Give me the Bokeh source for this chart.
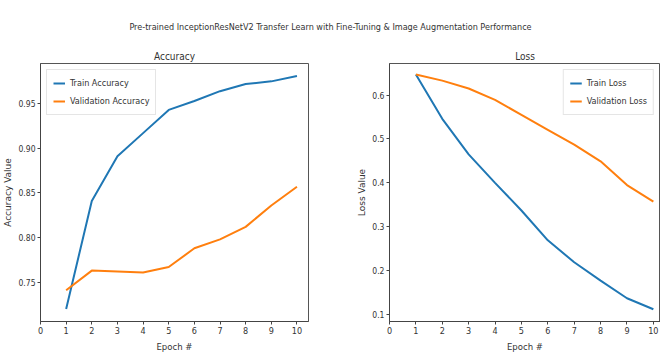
from bokeh.plotting import figure
from bokeh.layouts import column, row
from bokeh.models import Range1d, FixedTicker, Legend, LegendItem, CustomJSTickFormatter
from bokeh.core.properties import value
from bokeh.embed import file_html
from bokeh.resources import INLINE

epochs = [1, 2, 3, 4, 5, 6, 7, 8, 9, 10]
train_acc = [0.720, 0.841, 0.891, 0.917, 0.943, 0.953, 0.964, 0.972, 0.975, 0.981]
val_acc = [0.741, 0.763, 0.762, 0.761, 0.767, 0.788, 0.798, 0.812, 0.836, 0.857]
train_loss = [0.647, 0.546, 0.465, 0.400, 0.337, 0.269, 0.219, 0.177, 0.137, 0.112]
val_loss = [0.647, 0.633, 0.615, 0.589, 0.555, 0.521, 0.487, 0.449, 0.395, 0.357]
x_ticks = [0, 1, 2, 3, 4, 5, 6, 7, 8, 9, 10]
acc_ticks = [0.75, 0.80, 0.85, 0.90, 0.95]
loss_ticks = [0.1, 0.2, 0.3, 0.4, 0.5, 0.6]

main_title = "Pre-trained InceptionResNetV2 Transfer Learn with Fine-Tuning & Image Augmentation Performance"

BLUE = "#1f77b4"
ORANGE = "#ff7f0e"
COND = "DejaVu Sans Condensed"
TXT = "#333333"

# title strip
tp = figure(width=660, height=42, output_backend="svg", toolbar_location=None,
            x_range=Range1d(0, 1), y_range=Range1d(0, 1),
            x_axis_type=None, y_axis_type=None, min_border=0)
tp.outline_line_color = None
tp.grid.visible = False
tp.text(x=[0.5], y=[0.38], text=[main_title], text_align="center", text_baseline="middle",
        text_font=value(COND), text_font_size="9px", text_color=TXT)


def make(title, yl, ys, xr, yr, yticks, fmt, w, mbl, mbr, labels, loc):
    p = figure(width=w, height=317, output_backend="svg", toolbar_location=None,
               x_range=xr, y_range=yr, min_border_top=21, min_border_bottom=38,
               min_border_left=mbl, min_border_right=mbr)
    p.title.text = title
    p.title.align = "center"
    p.title.text_font = COND
    p.title.text_font_size = "10px"
    p.title.text_font_style = "normal"
    p.title.text_color = TXT
    p.title.standoff = 3
    p.grid.visible = False
    p.outline_line_color = "#555555"
    p.outline_line_width = 1
    for ax in (p.xaxis[0], p.yaxis[0]):
        ax.major_tick_in = 0
        ax.major_tick_out = 3
        ax.minor_tick_line_color = None
        ax.axis_line_color = "#444444"
        ax.major_tick_line_color = "#444444"
        ax.major_label_text_font = COND
        ax.major_label_text_font_size = "8.5px"
        ax.major_label_text_color = TXT
        ax.major_label_standoff = 2
        ax.axis_label_standoff = 2
        ax.axis_label_text_font_style = "normal"
        ax.axis_label_text_color = TXT
    p.xaxis.major_label_text_font_size = "9px"
    p.xaxis.axis_label_standoff = 4
    p.xaxis.ticker = FixedTicker(ticks=x_ticks)
    p.yaxis.ticker = FixedTicker(ticks=yticks)
    p.yaxis.formatter = CustomJSTickFormatter(code="return tick.toFixed(%d);" % fmt)
    p.xaxis.axis_label = "Epoch #"
    p.xaxis.axis_label_text_font = COND
    p.xaxis.axis_label_text_font_size = "9.5px"
    p.yaxis.axis_label = yl
    p.yaxis.axis_label_text_font = "DejaVu Sans"
    p.yaxis.axis_label_text_font_size = "9px"
    r1 = p.line(epochs, ys[0], line_color=BLUE, line_width=2)
    r2 = p.line(epochs, ys[1], line_color=ORANGE, line_width=2)
    leg = Legend(items=[LegendItem(label=labels[0], renderers=[r1]),
                        LegendItem(label=labels[1], renderers=[r2])],
                 location=loc)
    leg.label_text_font = COND
    leg.label_text_font_size = "9px"
    leg.label_text_color = TXT
    leg.glyph_width = 12
    leg.glyph_height = 10
    leg.label_height = 14
    leg.spacing = 4
    leg.padding = 6
    leg.margin = 6
    leg.border_line_color = "#cccccc"
    leg.label_standoff = 5
    p.add_layout(leg)
    return p


p1 = make("Accuracy", "Accuracy Value", [train_acc, val_acc], Range1d(0, 10.45),
          Range1d(0.706, 0.995), acc_ticks, 2, 344, 32, 36,
          ["Train Accuracy", "Validation Accuracy"], "top_left")
p2 = make("Loss", "Loss Value", [train_loss, val_loss], Range1d(0, 10.27),
          Range1d(0.084, 0.672), loss_ticks, 1, 316, 45, 0,
          ["Train Loss", "Validation Loss"], "top_right")

layout = column(tp, row(p1, p2, spacing=0), spacing=0)
open("out.html", "w").write(file_html(layout, INLINE))
